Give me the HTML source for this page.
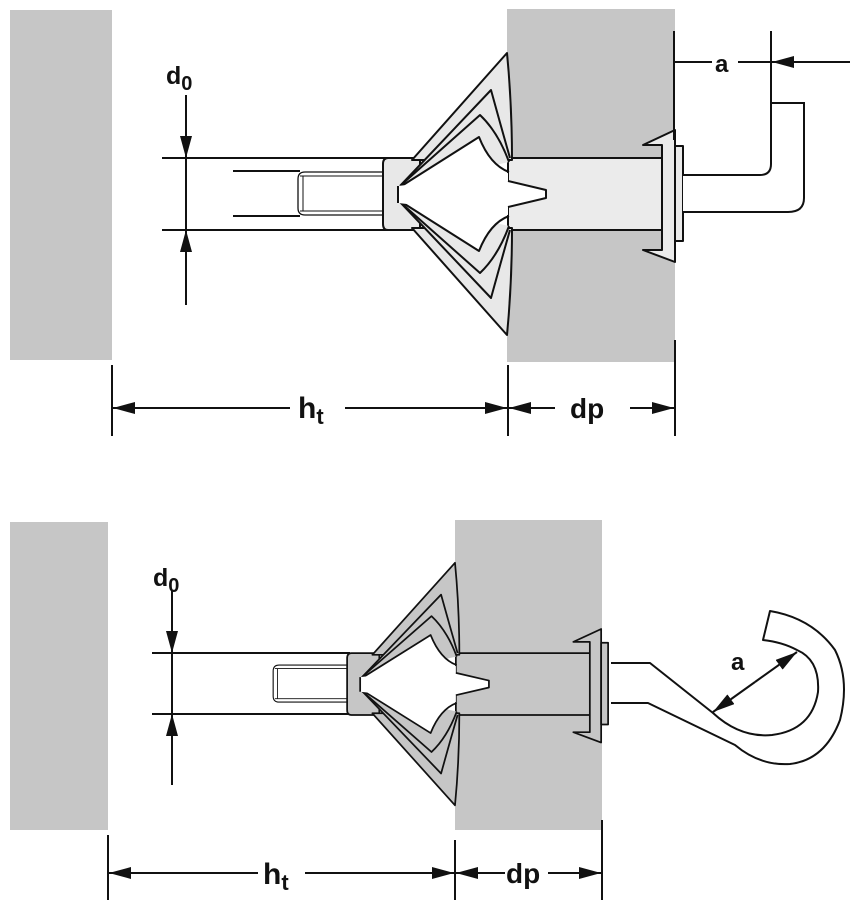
<!DOCTYPE html>
<html><head><meta charset="utf-8"><style>
html,body{margin:0;padding:0;background:#fff}
svg{display:block}
text{font-family:"Liberation Sans",sans-serif;font-weight:bold;fill:#111}
</style></head><body>
<svg width="860" height="906" viewBox="0 0 860 906" xmlns="http://www.w3.org/2000/svg">
<defs>
<marker id="ar" viewBox="0 0 10 10" refX="10" refY="5" markerWidth="22" markerHeight="12" markerUnits="userSpaceOnUse" orient="auto" preserveAspectRatio="none">
<path d="M0,0 L10,5 L0,10 Z" fill="#111"/></marker>
<g id="anchor" stroke="#111" stroke-width="2" stroke-linejoin="round">
  <path d="M305,172 L385,172 L385,215 L305,215 Q298,215 298,208 L298,179 Q298,172 305,172 Z" fill="#fff" stroke-width="1.3"/>
  <line x1="300" y1="176" x2="385" y2="176" stroke-width="1"/>
  <line x1="300" y1="211" x2="385" y2="211" stroke-width="1"/>
  <line x1="303" y1="176" x2="303" y2="211" stroke-width="1"/>
  <rect x="508" y="158" width="156" height="72" style="fill:var(--s)"/>
  <path d="M388,158 L420,158 L420,230 L388,230 Q383,230 383,224 L383,164 Q383,158 388,158 Z" style="fill:var(--w)"/>
  <g id="wing">
    <path d="M412,160 L507,53 Q512,105 512,160 L508,160 Z" style="fill:var(--w)"/>
    <path d="M400,186 L491,90 Q502,130 510,158" style="fill:var(--w)"/>
    <path d="M400,186 L480,115 Q498,132 509,162" style="fill:var(--w)"/>
    <path d="M400,187 L479,137 Q490,165 509,172" fill="#fff"/>
  </g>
  <use href="#wing" transform="matrix(1,0,0,-1,0,388)"/>
  <path d="M398,186 L508,173 L508,181 L546,190 L546,198 L508,207 L508,215 L398,203 Z" fill="#fff" stroke="none"/>
  <path d="M398,186 L398,203 M508,181 L546,190 L546,198 L508,207" fill="none"/>
  <path d="M643,145 L675,130 L675,262 L643,250 L662,250 L662,145 Z" style="fill:var(--s)"/>
  <rect x="675" y="146" width="8" height="95" style="fill:var(--s)"/>
</g>
</defs>

<rect x="10" y="10" width="102" height="350" fill="#c6c6c6"/>
<rect x="507" y="9" width="168" height="353" fill="#c6c6c6"/>
<g stroke="#111" stroke-width="2" fill="none">
  <line x1="162" y1="158" x2="390" y2="158"/>
  <line x1="162" y1="230" x2="390" y2="230"/>
  <line x1="233" y1="171" x2="300" y2="171"/>
  <line x1="233" y1="216" x2="300" y2="216"/>
</g>
<use href="#anchor" style="--w:#e8e8e8;--s:#ebebeb"/>
<path d="M683,175 L760,175 Q771,175 771,164 L771,103 L804,103 L804,198 Q804,212 788,212 L683,212" fill="#fff" stroke="#111" stroke-width="2"/>
<g stroke="#111" stroke-width="2" fill="none">
  <line x1="186" y1="95" x2="186" y2="158" marker-end="url(#ar)"/>
  <line x1="186" y1="305" x2="186" y2="230" marker-end="url(#ar)"/>
  <line x1="186" y1="158" x2="186" y2="230"/>
  <line x1="674" y1="31" x2="674" y2="140"/>
  <line x1="771" y1="31" x2="771" y2="103"/>
  <line x1="674" y1="62" x2="712" y2="62"/>
  <line x1="738" y1="62" x2="771" y2="62"/>
  <line x1="850" y1="62" x2="772" y2="62" marker-end="url(#ar)"/>
  <line x1="112" y1="365" x2="112" y2="436"/>
  <line x1="508" y1="365" x2="508" y2="436"/>
  <line x1="675" y1="340" x2="675" y2="436"/>
  <line x1="290" y1="408" x2="113" y2="408" marker-end="url(#ar)"/>
  <line x1="345" y1="408" x2="507" y2="408" marker-end="url(#ar)"/>
  <line x1="555" y1="408" x2="509" y2="408" marker-end="url(#ar)"/>
  <line x1="630" y1="408" x2="674" y2="408" marker-end="url(#ar)"/>
</g>
<text x="166" y="84" font-size="25">d<tspan font-size="20" dy="6">0</tspan></text>
<text x="715" y="72" font-size="24">a</text>
<text x="298" y="418" font-size="30">h<tspan font-size="22" dy="6">t</tspan></text>
<text x="570" y="418" font-size="28">dp</text>

<rect x="10" y="522" width="98" height="308" fill="#c6c6c6"/>
<rect x="455" y="520" width="147" height="310" fill="#c6c6c6"/>
<g stroke="#111" stroke-width="2">
  <line x1="152" y1="653" x2="350" y2="653"/>
  <line x1="152" y1="714" x2="350" y2="714"/>
</g>
<use href="#anchor" transform="matrix(0.87,0,0,0.86,13.9,517.2)" style="--w:#c6c6c6;--s:#c6c6c6"/>
<path d="M611,663 L650,663 L713,713 Q740,738 772,735 Q812,730 818,692 Q820,660 797,650 Q782,642 763,640 L770,611 Q812,618 835,650 Q850,680 840,720 Q825,760 790,764 Q760,766 735,745 L648,703 L611,703" fill="#fff" stroke="#111" stroke-width="2" stroke-linejoin="round"/>
<g stroke="#111" stroke-width="2" fill="none">
  <line x1="755" y1="682" x2="713" y2="712" marker-end="url(#ar)"/>
  <line x1="755" y1="682" x2="797" y2="652" marker-end="url(#ar)"/>
  <line x1="172" y1="590" x2="172" y2="653" marker-end="url(#ar)"/>
  <line x1="172" y1="785" x2="172" y2="714" marker-end="url(#ar)"/>
  <line x1="172" y1="653" x2="172" y2="714"/>
  <line x1="108" y1="835" x2="108" y2="900"/>
  <line x1="455" y1="840" x2="455" y2="900"/>
  <line x1="602" y1="820" x2="602" y2="900"/>
  <line x1="258" y1="873" x2="109" y2="873" marker-end="url(#ar)"/>
  <line x1="305" y1="873" x2="454" y2="873" marker-end="url(#ar)"/>
  <line x1="505" y1="873" x2="456" y2="873" marker-end="url(#ar)"/>
  <line x1="548" y1="873" x2="601" y2="873" marker-end="url(#ar)"/>
</g>
<text x="153" y="586" font-size="25">d<tspan font-size="20" dy="6">0</tspan></text>
<text x="731" y="670" font-size="24">a</text>
<text x="263" y="884" font-size="30">h<tspan font-size="22" dy="6">t</tspan></text>
<text x="506" y="883" font-size="28">dp</text>
</svg>
</body></html>
